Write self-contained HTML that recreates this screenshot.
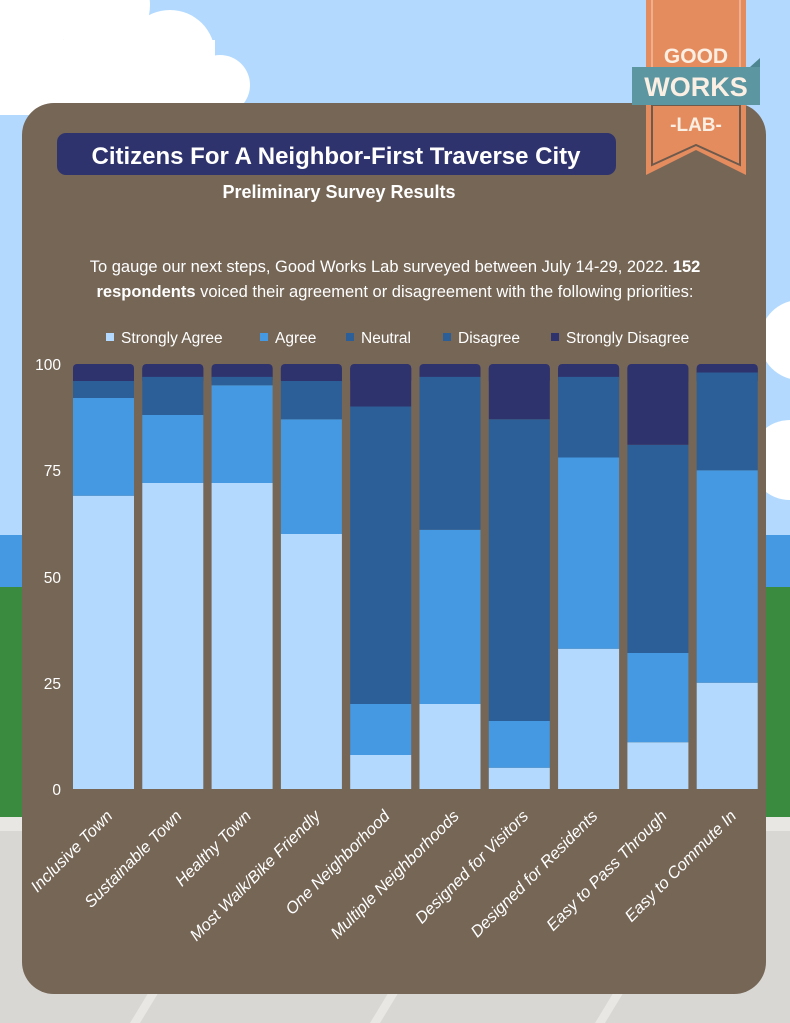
<!DOCTYPE html>
<html><head><meta charset="utf-8"><style>
html,body{margin:0;padding:0;width:790px;height:1023px;overflow:hidden;background:#b3dafe}
svg{display:block;font-family:"Liberation Sans",sans-serif}
</style></head><body>
<svg width="790" height="1023" viewBox="0 0 790 1023" xmlns="http://www.w3.org/2000/svg">
<rect width="790" height="1023" fill="#b3dafe"/>
<g fill="#ffffff">
<circle cx="30" cy="10" r="45"/><circle cx="100" cy="5" r="50"/><circle cx="170" cy="55" r="45"/><circle cx="220" cy="85" r="30"/><circle cx="60" cy="75" r="35"/><rect x="0" y="40" width="215" height="75"/>
<circle cx="800" cy="340" r="40"/><circle cx="790" cy="460" r="40"/>
</g>
<rect x="0" y="535" width="790" height="52" fill="#4499e2"/>
<rect x="0" y="587" width="790" height="230" fill="#3a8b3f"/>
<rect x="0" y="817" width="790" height="14" fill="#e8e7e3"/>
<rect x="0" y="831" width="790" height="192" fill="#d8d7d3"/>
<g fill="#e8e7e3"><polygon points="130,1023 140,1023 160,990 150,990"/><polygon points="370,1023 380,1023 400,990 390,990"/><polygon points="595,1023 605,1023 625,990 615,990"/></g>
<rect x="22" y="103" width="744" height="891" rx="32" fill="#756656"/>
<!-- logo -->
<rect x="646" y="0" width="100" height="150" fill="#e58c5f"/>
<polygon points="646,150 646,175 696,150 746,175 746,150" fill="#e58c5f"/>
<polygon points="652,105 652,165 696,145 740,165 740,105" fill="none" stroke="#6e5a4c" stroke-width="2"/>
<line x1="652" y1="0" x2="652" y2="68" stroke="#f0b090" stroke-width="2"/><line x1="740" y1="0" x2="740" y2="68" stroke="#f0b090" stroke-width="2"/>
<rect x="632" y="67" width="128" height="38" fill="#5b96a1"/>
<polygon points="750,67 760,58 760,67" fill="#4d8590"/>
<text x="696" y="63" text-anchor="middle" fill="#fbeee2" font-weight="bold" font-size="21">GOOD</text>
<text x="696" y="96" text-anchor="middle" fill="#fbeee2" font-weight="bold" font-size="27">WORKS</text>
<text x="696" y="131" text-anchor="middle" fill="#fbeee2" font-weight="bold" font-size="19">-LAB-</text>
<!-- title -->
<rect x="57" y="133" width="559" height="42" rx="9" fill="#2f336d"/>
<text x="336" y="164" text-anchor="middle" fill="#fff" font-weight="bold" font-size="24">Citizens For A Neighbor-First Traverse City</text>
<text x="339" y="198" text-anchor="middle" fill="#fff" font-weight="bold" font-size="18">Preliminary Survey Results</text>
<text x="395" y="272" text-anchor="middle" fill="#fff" font-size="16.5">To gauge our next steps, Good Works Lab surveyed between July 14-29, 2022. <tspan font-weight="bold">152</tspan></text>
<text x="395" y="297" text-anchor="middle" fill="#fff" font-size="16.5"><tspan font-weight="bold">respondents</tspan> voiced their agreement or disagreement with the following priorities:</text>
<!-- legend -->
<g font-size="15.5" fill="#fff">
<rect x="106" y="333" width="8" height="8" fill="#b3dafe"/><text x="121" y="343">Strongly Agree</text>
<rect x="260" y="333" width="8" height="8" fill="#4499e2"/><text x="275" y="343">Agree</text>
<rect x="346" y="333" width="8" height="8" fill="#2c5e98"/><text x="361" y="343">Neutral</text>
<rect x="443" y="333" width="8" height="8" fill="#2c5e98"/><text x="458" y="343">Disagree</text>
<rect x="551" y="333" width="8" height="8" fill="#2f336d"/><text x="566" y="343">Strongly Disagree</text>
</g>
<g font-size="15.5" fill="#fff" text-anchor="end">
<text x="61" y="370">100</text><text x="61" y="476">75</text><text x="61" y="583">50</text><text x="61" y="689">25</text><text x="61" y="795">0</text>
</g>
<g id="bars"></g>
<g id="labels" font-size="16.5" fill="#fff" font-style="italic" text-anchor="end"></g>
<script>
(function(){
var data=[[69,92,96,96],[72,88,97,97],[72,95,97,97],[60,87,96,96],[8,20,90,90],[20,61,97,97],[5,16,87,87],[33,78,97,97],[11,32,81,81],[25,75,98,98]];
var names=["Inclusive Town","Sustainable Town","Healthy Town","Most Walk/Bike Friendly","One Neighborhood","Multiple Neighborhoods","Designed for Visitors","Designed for Residents","Easy to Pass Through","Easy to Commute In"];
var cols=["#b3dafe","#4499e2","#2c5e98","#2c5e98","#2f336d"];
var ns="http://www.w3.org/2000/svg",g=document.getElementById("bars"),L=document.getElementById("labels");
function Y(v){return 789-v*4.25;}
for(var i=0;i<10;i++){
 var x=73+i*69.3,w=61,prev=0,vals=data[i].concat([100]);
 var r=document.createElementNS(ns,"rect");r.setAttribute("x",x);r.setAttribute("y",364);r.setAttribute("width",w);r.setAttribute("height",20);r.setAttribute("rx",4);r.setAttribute("fill",cols[4]);g.appendChild(r);
 for(var k=0;k<5;k++){var v=vals[k];if(v>prev){var s=document.createElementNS(ns,"rect");var yt=Y(v)+(k==4?4:0);s.setAttribute("x",x);s.setAttribute("y",yt);s.setAttribute("width",w);s.setAttribute("height",Y(prev)-yt);s.setAttribute("fill",cols[k]);g.appendChild(s);}prev=v;}
 var t=document.createElementNS(ns,"text");var cx=x+w/2+10,cy=817;t.setAttribute("x",cx);t.setAttribute("y",cy);t.setAttribute("transform","rotate(-45 "+cx+" "+cy+")");t.textContent=names[i];L.appendChild(t);
}
})();
</script>
</svg>
</body></html>
